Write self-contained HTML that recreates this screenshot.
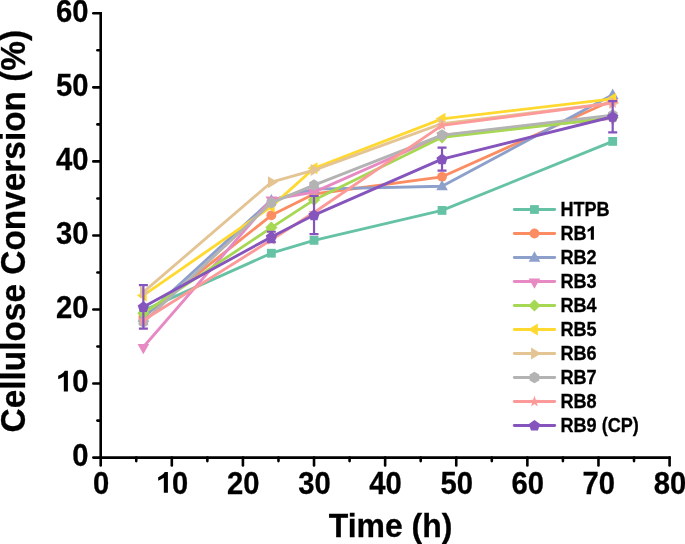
<!DOCTYPE html>
<html><head><meta charset="utf-8"><style>
html,body{margin:0;padding:0;background:#fff;width:685px;height:544px;overflow:hidden}
svg{display:block;will-change:transform}
text{font-family:"Liberation Sans",sans-serif;font-weight:bold;fill:#000;stroke:#000;stroke-width:0.3px}
.tk{font-size:31.3px}
.ttl{font-size:34.3px}
.ttx{font-size:33.6px}
.lg{font-size:19.7px}
</style></head><body>
<svg width="685" height="544" viewBox="0 0 685 544">
<polyline points="143.37,310.61 271.36,253.22 314.03,240.34 442.03,210.42 612.69,141.41" fill="none" stroke="#66c2a5" stroke-width="2.85" stroke-linejoin="round" stroke-linecap="round"/>
<rect x="138.97" y="306.21" width="8.8" height="8.8" fill="#66c2a5"/>
<rect x="266.96" y="248.82" width="8.8" height="8.8" fill="#66c2a5"/>
<rect x="309.63" y="235.94" width="8.8" height="8.8" fill="#66c2a5"/>
<rect x="437.63" y="206.02" width="8.8" height="8.8" fill="#66c2a5"/>
<rect x="608.29" y="137.01" width="8.8" height="8.8" fill="#66c2a5"/>
<polyline points="143.37,316.91 271.36,215.31 314.03,193.98 442.03,176.80 612.69,100.31" fill="none" stroke="#fc8d62" stroke-width="2.85" stroke-linejoin="round" stroke-linecap="round"/>
<circle cx="143.37" cy="316.91" r="4.9" fill="#fc8d62"/>
<circle cx="271.36" cy="215.31" r="4.9" fill="#fc8d62"/>
<circle cx="314.03" cy="193.98" r="4.9" fill="#fc8d62"/>
<circle cx="442.03" cy="176.80" r="4.9" fill="#fc8d62"/>
<circle cx="612.69" cy="100.31" r="4.9" fill="#fc8d62"/>
<polyline points="143.37,317.65 271.36,200.13 314.03,189.17 442.03,186.21 612.69,94.75" fill="none" stroke="#8da0cb" stroke-width="2.85" stroke-linejoin="round" stroke-linecap="round"/>
<polygon points="143.37,311.48 149.17,321.78 137.57,321.78" fill="#8da0cb"/>
<polygon points="271.36,193.96 277.16,204.26 265.56,204.26" fill="#8da0cb"/>
<polygon points="314.03,183.00 319.83,193.30 308.23,193.30" fill="#8da0cb"/>
<polygon points="442.03,180.04 447.83,190.34 436.23,190.34" fill="#8da0cb"/>
<polygon points="612.69,88.59 618.49,98.89 606.89,98.89" fill="#8da0cb"/>
<polyline points="143.37,347.04 271.36,199.54 314.03,192.13 442.03,135.48 612.69,118.45" fill="none" stroke="#e78ac3" stroke-width="2.85" stroke-linejoin="round" stroke-linecap="round"/>
<polygon points="143.37,354.31 149.17,344.01 137.57,344.01" fill="#e78ac3"/>
<polygon points="271.36,206.80 277.16,196.50 265.56,196.50" fill="#e78ac3"/>
<polygon points="314.03,199.40 319.83,189.10 308.23,189.10" fill="#e78ac3"/>
<polygon points="442.03,142.75 447.83,132.45 436.23,132.45" fill="#e78ac3"/>
<polygon points="612.69,125.72 618.49,115.42 606.89,115.42" fill="#e78ac3"/>
<polyline points="143.37,313.20 271.36,227.60 314.03,199.91 442.03,137.33 612.69,117.71" fill="none" stroke="#a6d854" stroke-width="2.85" stroke-linejoin="round" stroke-linecap="round"/>
<polygon points="143.37,307.10 149.47,313.20 143.37,319.30 137.27,313.20" fill="#a6d854"/>
<polygon points="271.36,221.50 277.46,227.60 271.36,233.70 265.26,227.60" fill="#a6d854"/>
<polygon points="314.03,193.81 320.13,199.91 314.03,206.01 307.93,199.91" fill="#a6d854"/>
<polygon points="442.03,131.23 448.13,137.33 442.03,143.43 435.93,137.33" fill="#a6d854"/>
<polygon points="612.69,111.61 618.79,117.71 612.69,123.81 606.59,117.71" fill="#a6d854"/>
<polyline points="143.37,295.43 271.36,206.57 314.03,168.21 442.03,118.82 612.69,98.83" fill="none" stroke="#ffd92f" stroke-width="2.85" stroke-linejoin="round" stroke-linecap="round"/>
<polygon points="136.77,295.43 146.77,289.38 146.77,301.48" fill="#ffd92f"/>
<polygon points="264.76,206.57 274.76,200.52 274.76,212.62" fill="#ffd92f"/>
<polygon points="307.43,168.21 317.43,162.16 317.43,174.26" fill="#ffd92f"/>
<polygon points="435.43,118.82 445.43,112.77 445.43,124.87" fill="#ffd92f"/>
<polygon points="606.09,98.83 616.09,92.78 616.09,104.88" fill="#ffd92f"/>
<polyline points="143.37,292.10 271.36,182.21 314.03,170.06 442.03,123.63 612.69,102.90" fill="none" stroke="#e5c494" stroke-width="2.85" stroke-linejoin="round" stroke-linecap="round"/>
<polygon points="149.97,292.10 139.97,286.05 139.97,298.15" fill="#e5c494"/>
<polygon points="277.96,182.21 267.96,176.16 267.96,188.26" fill="#e5c494"/>
<polygon points="320.63,170.06 310.63,164.01 310.63,176.11" fill="#e5c494"/>
<polygon points="448.63,123.63 438.63,117.58 438.63,129.68" fill="#e5c494"/>
<polygon points="619.29,102.90 609.29,96.85 609.29,108.95" fill="#e5c494"/>
<polyline points="143.37,322.09 271.36,202.87 314.03,185.10 442.03,135.11 612.69,115.12" fill="none" stroke="#b3b3b3" stroke-width="2.85" stroke-linejoin="round" stroke-linecap="round"/>
<polygon points="143.37,316.34 148.17,319.21 148.17,324.96 143.37,327.84 138.57,324.96 138.57,319.21" fill="#b3b3b3"/>
<polygon points="271.36,197.12 276.16,199.99 276.16,205.74 271.36,208.62 266.56,205.74 266.56,199.99" fill="#b3b3b3"/>
<polygon points="314.03,179.35 318.83,182.22 318.83,187.97 314.03,190.85 309.23,187.97 309.23,182.22" fill="#b3b3b3"/>
<polygon points="442.03,129.36 446.83,132.24 446.83,137.99 442.03,140.86 437.23,137.99 437.23,132.24" fill="#b3b3b3"/>
<polygon points="612.69,109.37 617.49,112.24 617.49,117.99 612.69,120.87 607.89,117.99 607.89,112.24" fill="#b3b3b3"/>
<polyline points="143.37,320.24 271.36,239.89 314.03,212.49 442.03,125.34 612.69,103.12" fill="none" stroke="#fb9a99" stroke-width="2.85" stroke-linejoin="round" stroke-linecap="round"/>
<polygon points="143.37,314.58 144.72,318.58 148.94,318.63 145.55,321.15 146.81,325.18 143.37,322.74 139.92,325.18 141.18,321.15 137.79,318.63 142.01,318.58" fill="#fb9a99"/>
<polygon points="271.36,234.23 272.72,238.23 276.94,238.28 273.55,240.80 274.81,244.83 271.36,242.39 267.92,244.83 269.18,240.80 265.79,238.28 270.01,238.23" fill="#fb9a99"/>
<polygon points="314.03,206.83 315.38,210.83 319.60,210.88 316.22,213.41 317.47,217.44 314.03,214.99 310.59,217.44 311.84,213.41 308.46,210.88 312.68,210.83" fill="#fb9a99"/>
<polygon points="442.03,119.68 443.38,123.68 447.60,123.73 444.22,126.25 445.47,130.28 442.03,127.84 438.58,130.28 439.84,126.25 436.45,123.73 440.68,123.68" fill="#fb9a99"/>
<polygon points="612.69,97.46 614.04,101.46 618.27,101.51 614.88,104.03 616.14,108.06 612.69,105.62 609.25,108.06 610.50,104.03 607.12,101.51 611.34,101.46" fill="#fb9a99"/>
<polyline points="143.37,306.91 271.36,236.93 314.03,215.09 442.03,159.18 612.69,116.75" fill="none" stroke="#8554bc" stroke-width="2.85" stroke-linejoin="round" stroke-linecap="round"/>
<path d="M143.37,285.21V328.60M138.87,285.21H147.87M138.87,328.60H147.87" stroke="#8554bc" stroke-width="2.2" fill="none"/>
<path d="M271.36,231.75V242.11M266.86,231.75H275.86M266.86,242.11H275.86" stroke="#8554bc" stroke-width="2.2" fill="none"/>
<path d="M314.03,195.98V234.19M309.53,195.98H318.53M309.53,234.19H318.53" stroke="#8554bc" stroke-width="2.2" fill="none"/>
<path d="M442.03,147.70V170.66M437.53,147.70H446.53M437.53,170.66H446.53" stroke="#8554bc" stroke-width="2.2" fill="none"/>
<path d="M612.69,101.20V132.30M608.19,101.20H617.19M608.19,132.30H617.19" stroke="#8554bc" stroke-width="2.2" fill="none"/>
<polygon points="143.37,301.31 148.98,305.39 146.83,311.98 139.90,311.98 137.75,305.39" fill="#8554bc"/>
<polygon points="271.36,231.33 276.98,235.41 274.83,242.00 267.90,242.00 265.75,235.41" fill="#8554bc"/>
<polygon points="314.03,209.49 319.64,213.56 317.50,220.16 310.56,220.16 308.42,213.56" fill="#8554bc"/>
<polygon points="442.03,153.58 447.64,157.66 445.50,164.25 438.56,164.25 436.42,157.66" fill="#8554bc"/>
<polygon points="612.69,111.15 618.30,115.22 616.16,121.82 609.22,121.82 607.08,115.22" fill="#8554bc"/>
<line x1="514.3" y1="209.50" x2="554.7" y2="209.50" stroke="#66c2a5" stroke-width="2.85" stroke-linecap="round"/>
<rect x="530.05" y="205.10" width="8.8" height="8.8" fill="#66c2a5"/>
<text transform="translate(560.4,215.90) scale(0.92,1)" class="lg">HTPB</text>
<line x1="514.3" y1="233.50" x2="554.7" y2="233.50" stroke="#fc8d62" stroke-width="2.85" stroke-linecap="round"/>
<circle cx="534.45" cy="233.50" r="4.9" fill="#fc8d62"/>
<text transform="translate(560.4,239.90) scale(0.92,1)" class="lg">RB</text>
<path transform="translate(593.9,239.80)" d="M-3.1,0H0V-13.5H-2.3C-2.9,-12.3 -4.3,-11.0 -6.3,-10.2V-7.8C-5.2,-8.3 -4.0,-8.9 -3.1,-9.6Z" fill="#000"/>
<line x1="514.3" y1="257.50" x2="554.7" y2="257.50" stroke="#8da0cb" stroke-width="2.85" stroke-linecap="round"/>
<polygon points="534.45,251.33 540.25,261.63 528.65,261.63" fill="#8da0cb"/>
<text transform="translate(560.4,263.90) scale(0.92,1)" class="lg">RB2</text>
<line x1="514.3" y1="281.50" x2="554.7" y2="281.50" stroke="#e78ac3" stroke-width="2.85" stroke-linecap="round"/>
<polygon points="534.45,288.77 540.25,278.47 528.65,278.47" fill="#e78ac3"/>
<text transform="translate(560.4,287.90) scale(0.92,1)" class="lg">RB3</text>
<line x1="514.3" y1="305.50" x2="554.7" y2="305.50" stroke="#a6d854" stroke-width="2.85" stroke-linecap="round"/>
<polygon points="534.45,299.40 540.55,305.50 534.45,311.60 528.35,305.50" fill="#a6d854"/>
<text transform="translate(560.4,311.90) scale(0.92,1)" class="lg">RB4</text>
<line x1="514.3" y1="329.50" x2="554.7" y2="329.50" stroke="#ffd92f" stroke-width="2.85" stroke-linecap="round"/>
<polygon points="527.85,329.50 537.85,323.45 537.85,335.55" fill="#ffd92f"/>
<text transform="translate(560.4,335.90) scale(0.92,1)" class="lg">RB5</text>
<line x1="514.3" y1="353.50" x2="554.7" y2="353.50" stroke="#e5c494" stroke-width="2.85" stroke-linecap="round"/>
<polygon points="541.05,353.50 531.05,347.45 531.05,359.55" fill="#e5c494"/>
<text transform="translate(560.4,359.90) scale(0.92,1)" class="lg">RB6</text>
<line x1="514.3" y1="377.50" x2="554.7" y2="377.50" stroke="#b3b3b3" stroke-width="2.85" stroke-linecap="round"/>
<polygon points="534.45,371.75 539.25,374.62 539.25,380.38 534.45,383.25 529.65,380.38 529.65,374.62" fill="#b3b3b3"/>
<text transform="translate(560.4,383.90) scale(0.92,1)" class="lg">RB7</text>
<line x1="514.3" y1="401.50" x2="554.7" y2="401.50" stroke="#fb9a99" stroke-width="2.85" stroke-linecap="round"/>
<polygon points="534.45,395.84 535.80,399.84 540.02,399.89 536.64,402.41 537.89,406.44 534.45,404.00 531.01,406.44 532.26,402.41 528.88,399.89 533.10,399.84" fill="#fb9a99"/>
<text transform="translate(560.4,407.90) scale(0.92,1)" class="lg">RB8</text>
<line x1="514.3" y1="425.50" x2="554.7" y2="425.50" stroke="#8554bc" stroke-width="2.85" stroke-linecap="round"/>
<polygon points="534.45,419.90 540.06,423.98 537.92,430.57 530.98,430.57 528.84,423.98" fill="#8554bc"/>
<text transform="translate(560.4,431.90) scale(0.92,1)" class="lg">RB9 (CP)</text>
<path d="M100.70,12.10V457.60H670.78" stroke="#000" stroke-width="2.6" fill="none" stroke-linejoin="miter"/>
<line x1="93.30" y1="457.60" x2="100.70" y2="457.60" stroke="#000" stroke-width="2.6" stroke-linecap="round"/>
<line x1="97.40" y1="420.58" x2="100.70" y2="420.58" stroke="#000" stroke-width="2.6" stroke-linecap="round"/>
<line x1="93.30" y1="383.55" x2="100.70" y2="383.55" stroke="#000" stroke-width="2.6" stroke-linecap="round"/>
<line x1="97.40" y1="346.53" x2="100.70" y2="346.53" stroke="#000" stroke-width="2.6" stroke-linecap="round"/>
<line x1="93.30" y1="309.50" x2="100.70" y2="309.50" stroke="#000" stroke-width="2.6" stroke-linecap="round"/>
<line x1="97.40" y1="272.48" x2="100.70" y2="272.48" stroke="#000" stroke-width="2.6" stroke-linecap="round"/>
<line x1="93.30" y1="235.45" x2="100.70" y2="235.45" stroke="#000" stroke-width="2.6" stroke-linecap="round"/>
<line x1="97.40" y1="198.43" x2="100.70" y2="198.43" stroke="#000" stroke-width="2.6" stroke-linecap="round"/>
<line x1="93.30" y1="161.40" x2="100.70" y2="161.40" stroke="#000" stroke-width="2.6" stroke-linecap="round"/>
<line x1="97.40" y1="124.38" x2="100.70" y2="124.38" stroke="#000" stroke-width="2.6" stroke-linecap="round"/>
<line x1="93.30" y1="87.35" x2="100.70" y2="87.35" stroke="#000" stroke-width="2.6" stroke-linecap="round"/>
<line x1="97.40" y1="50.32" x2="100.70" y2="50.32" stroke="#000" stroke-width="2.6" stroke-linecap="round"/>
<line x1="93.30" y1="13.30" x2="100.70" y2="13.30" stroke="#000" stroke-width="2.6" stroke-linecap="round"/>
<line x1="100.70" y1="457.60" x2="100.70" y2="465.40" stroke="#000" stroke-width="2.6" stroke-linecap="round"/>
<line x1="136.25" y1="457.60" x2="136.25" y2="461.10" stroke="#000" stroke-width="2.6" stroke-linecap="round"/>
<line x1="171.81" y1="457.60" x2="171.81" y2="465.40" stroke="#000" stroke-width="2.6" stroke-linecap="round"/>
<line x1="207.37" y1="457.60" x2="207.37" y2="461.10" stroke="#000" stroke-width="2.6" stroke-linecap="round"/>
<line x1="242.92" y1="457.60" x2="242.92" y2="465.40" stroke="#000" stroke-width="2.6" stroke-linecap="round"/>
<line x1="278.48" y1="457.60" x2="278.48" y2="461.10" stroke="#000" stroke-width="2.6" stroke-linecap="round"/>
<line x1="314.03" y1="457.60" x2="314.03" y2="465.40" stroke="#000" stroke-width="2.6" stroke-linecap="round"/>
<line x1="349.58" y1="457.60" x2="349.58" y2="461.10" stroke="#000" stroke-width="2.6" stroke-linecap="round"/>
<line x1="385.14" y1="457.60" x2="385.14" y2="465.40" stroke="#000" stroke-width="2.6" stroke-linecap="round"/>
<line x1="420.69" y1="457.60" x2="420.69" y2="461.10" stroke="#000" stroke-width="2.6" stroke-linecap="round"/>
<line x1="456.25" y1="457.60" x2="456.25" y2="465.40" stroke="#000" stroke-width="2.6" stroke-linecap="round"/>
<line x1="491.80" y1="457.60" x2="491.80" y2="461.10" stroke="#000" stroke-width="2.6" stroke-linecap="round"/>
<line x1="527.36" y1="457.60" x2="527.36" y2="465.40" stroke="#000" stroke-width="2.6" stroke-linecap="round"/>
<line x1="562.91" y1="457.60" x2="562.91" y2="461.10" stroke="#000" stroke-width="2.6" stroke-linecap="round"/>
<line x1="598.47" y1="457.60" x2="598.47" y2="465.40" stroke="#000" stroke-width="2.6" stroke-linecap="round"/>
<line x1="634.02" y1="457.60" x2="634.02" y2="461.10" stroke="#000" stroke-width="2.6" stroke-linecap="round"/>
<line x1="669.58" y1="457.60" x2="669.58" y2="465.40" stroke="#000" stroke-width="2.6" stroke-linecap="round"/>
<text transform="translate(88.6,466.00) scale(0.935,1)" class="tk" text-anchor="end">0</text>
<text transform="translate(88.6,391.95) scale(0.935,1)" class="tk" text-anchor="end">0</text>
<path transform="translate(67.90,391.45)" d="M-4.07,0H0V-20.8H-3.2C-4.1,-18.9 -6.6,-16.9 -9.7,-15.7V-12.1C-7.6,-12.9 -5.6,-13.9 -4.07,-15.0Z" fill="#000"/>
<text transform="translate(88.6,317.90) scale(0.935,1)" class="tk" text-anchor="end">20</text>
<text transform="translate(88.6,243.85) scale(0.935,1)" class="tk" text-anchor="end">30</text>
<text transform="translate(88.6,169.80) scale(0.935,1)" class="tk" text-anchor="end">40</text>
<text transform="translate(88.6,95.75) scale(0.935,1)" class="tk" text-anchor="end">50</text>
<text transform="translate(88.6,21.70) scale(0.935,1)" class="tk" text-anchor="end">60</text>
<text transform="translate(101.10,493.9) scale(0.935,1)" class="tk" text-anchor="middle">0</text>
<text transform="translate(188.3,493.9) scale(0.93,1)" class="tk" text-anchor="end">0</text>
<path transform="translate(167.90,492.85)" d="M-4.07,0H0V-20.8H-3.2C-4.1,-18.9 -6.6,-16.9 -9.7,-15.7V-12.1C-7.6,-12.9 -5.6,-13.9 -4.07,-15.0Z" fill="#000"/>
<text transform="translate(243.32,493.9) scale(0.935,1)" class="tk" text-anchor="middle">20</text>
<text transform="translate(314.43,493.9) scale(0.935,1)" class="tk" text-anchor="middle">30</text>
<text transform="translate(385.54,493.9) scale(0.935,1)" class="tk" text-anchor="middle">40</text>
<text transform="translate(456.65,493.9) scale(0.935,1)" class="tk" text-anchor="middle">50</text>
<text transform="translate(527.76,493.9) scale(0.935,1)" class="tk" text-anchor="middle">60</text>
<text transform="translate(598.87,493.9) scale(0.935,1)" class="tk" text-anchor="middle">70</text>
<text transform="translate(669.98,493.9) scale(0.935,1)" class="tk" text-anchor="middle">80</text>
<text transform="translate(390.5,536.8) scale(0.951,1)" class="ttx" text-anchor="middle">Time (h)</text>
<text transform="translate(25.2,231.15) rotate(-90) scale(0.974,1)" class="ttl" text-anchor="middle">Cellulose Conversion (%)</text>
</svg>
</body></html>
